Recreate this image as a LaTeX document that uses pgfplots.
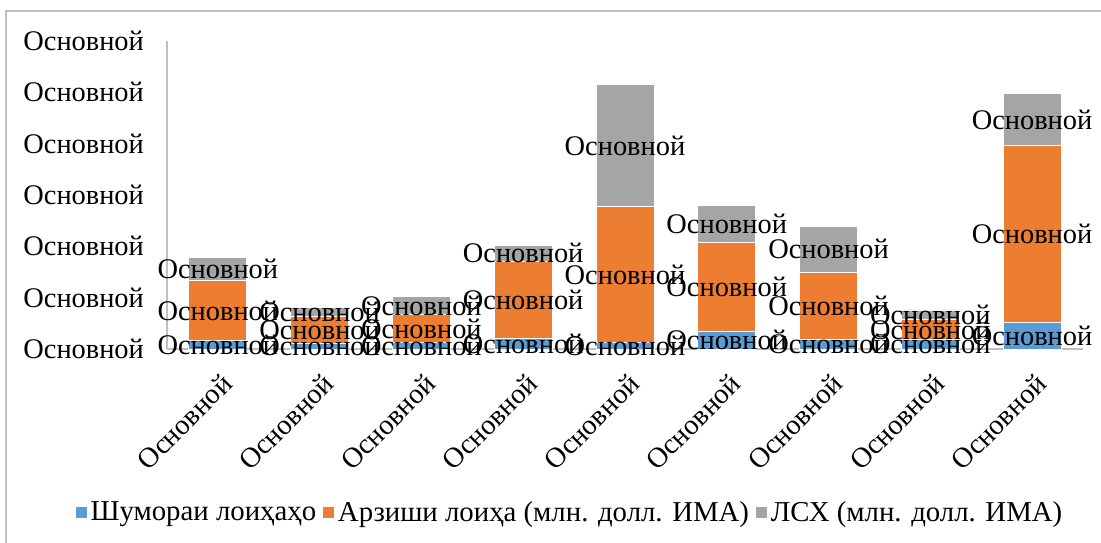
\documentclass[border=0pt]{standalone}
\usepackage{pgfplots}
\pgfplotsset{compat=1.18}
\usepackage{pgfplotstable}
\usepackage{fontspec}
\setmainfont{Liberation Serif}
\definecolor{cblue}{HTML}{5B9BD5}
\definecolor{corange}{HTML}{ED7D31}
\definecolor{cgray}{HTML}{A5A5A5}
\definecolor{caxis}{HTML}{BFBFBF}
\pgfplotstableread{
x b o g
0 0.16 1.17 0.45
1 0.10 0.53 0.18
2 0.12 0.55 0.35
3 0.21 1.50 0.31
4 0.12 2.65 2.38
5 0.35 1.73 0.72
6 0.19 1.31 0.88
7 0.18 0.39 0.19
8 0.51 3.45 1.01
}\datatable
\begin{document}
\begin{tikzpicture}
\begin{axis}[
  scale only axis,
  width=458pt, height=154pt,
  xmin=-0.5, xmax=8.5,
  ymin=0, ymax=6,
  axis lines*=left,
  axis line style={draw=caxis, line width=0.6pt, -},
  major tick length=0pt,
  xtick={0,...,8},
  xticklabels={Основной,Основной,Основной,Основной,Основной,Основной,Основной,Основной,Основной},
  ytick={0,...,6},
  yticklabels={Основной,Основной,Основной,Основной,Основной,Основной,Основной},
  tick label style={font=\fontsize{14.2}{15}\selectfont, text=black},
  yticklabel style={anchor=east, xshift=-8pt},
  xticklabel style={rotate=45, anchor=east, xshift=-4pt, yshift=-14pt},
  clip=false,
  legend style={at={(0.44,-0.532)}, anchor=center, draw=none, fill=none,
    font=\fontsize{14.4}{15}\selectfont, legend columns=-1,
    nodes={inner xsep=1.5pt},
    /tikz/every even column/.append style={column sep=1.5pt},
    inner sep=0pt},
  legend image code/.code={\fill[#1] (0pt,-3pt) rectangle (6pt,3pt);},
  every node near coord/.append style={font=\fontsize{14.2}{15}\selectfont, text=black, anchor=center},
]
\addplot[ybar, stack plots=y, bar width=29pt, fill=cblue, draw=white, line width=0.4pt] table[x=x, y=b] {\datatable};
\addlegendentry{Шумораи лоиҳаҳо}
\addplot[ybar, stack plots=y, bar width=29pt, fill=corange, draw=white, line width=0.4pt] table[x=x, y=o] {\datatable};
\addlegendentry{Арзиши лоиҳа (млн. долл. ИМА)}
\addplot[ybar, stack plots=y, bar width=29pt, fill=cgray, draw=white, line width=0.4pt] table[x=x, y=g] {\datatable};
\addlegendentry{ЛСХ (млн. долл. ИМА)}
% labels at segment centres
\addplot[forget plot, draw=none, mark=none, nodes near coords={Основной}] table[x=x, y expr=\thisrow{b}/2] {\datatable};
\addplot[forget plot, draw=none, mark=none, nodes near coords={Основной}] table[x=x, y expr=\thisrow{b}+\thisrow{o}/2] {\datatable};
\addplot[forget plot, draw=none, mark=none, nodes near coords={Основной}] table[x=x, y expr=\thisrow{b}+\thisrow{o}+\thisrow{g}/2] {\datatable};
\coordinate (bl) at (rel axis cs:-0.1823,-0.6299);
\coordinate (tr) at (rel axis cs:1.0197,1.1331);
\coordinate (fa) at (rel axis cs:-0.1758,-0.6299);
\coordinate (fb) at (rel axis cs:-0.1758,1.0974);
\coordinate (fc) at (rel axis cs:1.0197,1.0974);
\end{axis}
\draw[caxis, line width=0.6pt] (fa) -- (fb) -- (fc);
\pgfresetboundingbox
\path (bl) rectangle (tr);
\end{tikzpicture}
\end{document}
